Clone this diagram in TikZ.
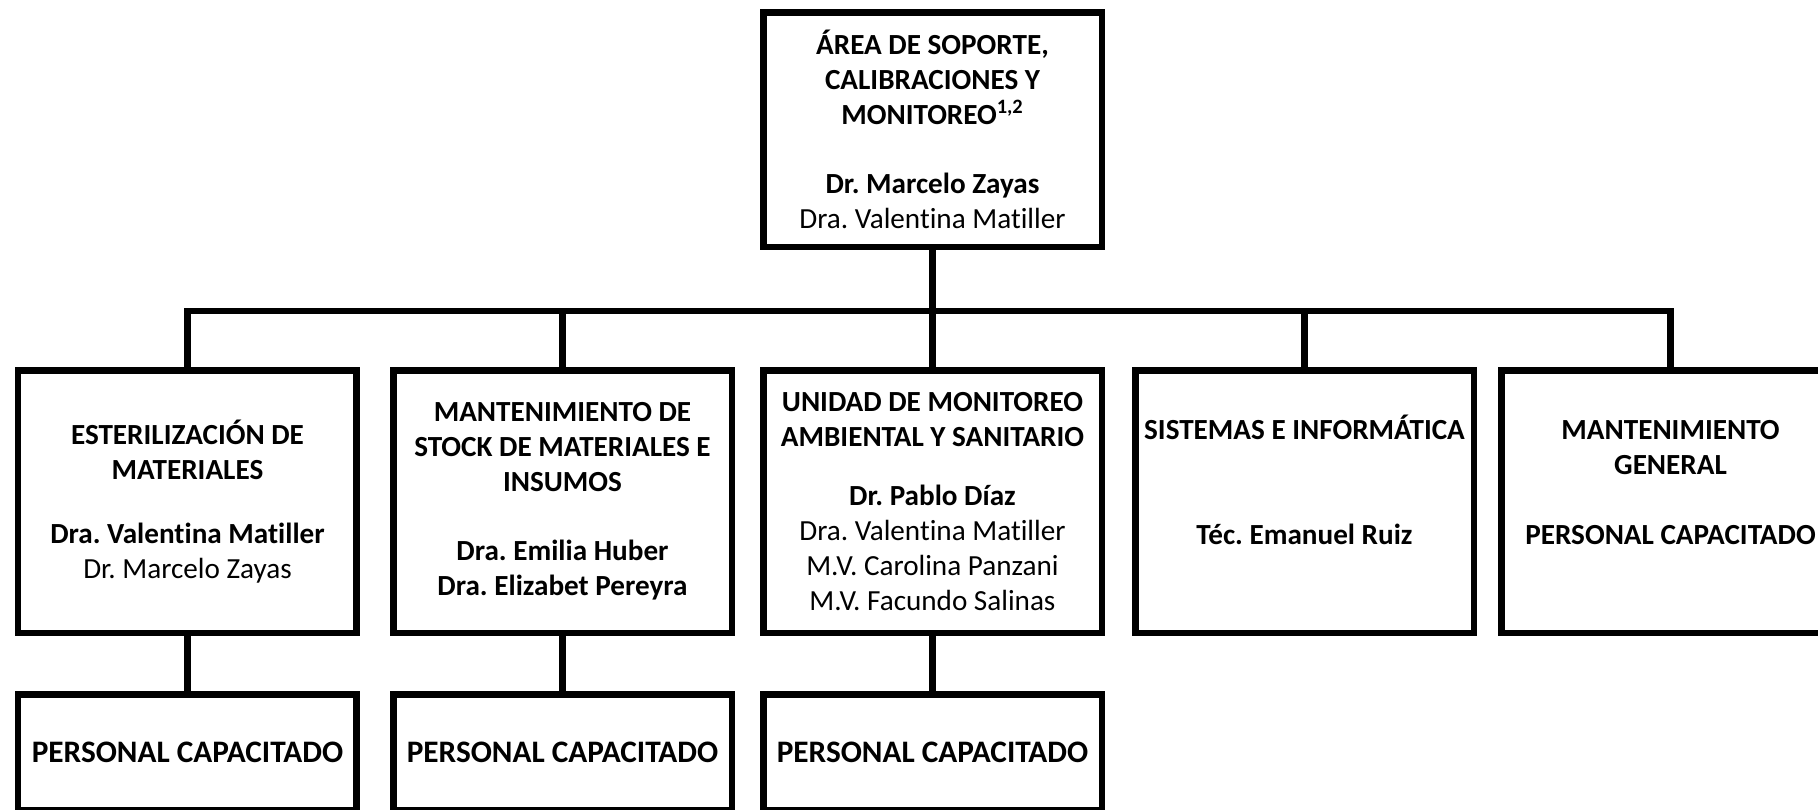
\documentclass[tikz,border=0pt]{standalone}
\usepackage{fontspec}
\setmainfont{Carlito}[Ligatures={NoCommon,NoContextual}]
\frenchspacing
\usetikzlibrary{positioning}

\begin{document}
\begin{tikzpicture}[
    node distance=0.5cm,
    unit/.style={rectangle, draw, line width=3.7pt, minimum width=6.77cm, minimum height=5.25cm, align=center, inner sep=2pt, font=\bfseries\fontsize{16.6}{19.8}\selectfont},
    head/.style={unit, minimum height=4.69cm},
    staff/.style={unit, minimum height=2.32cm, font=\bfseries\fontsize{17.8}{20}\selectfont},
    link/.style={line width=3.7pt}
]
\useasboundingbox (0,0) rectangle (36.36,-16.18);
\clip (0,0) rectangle (36.36,-16.18);

\node[head] (area) at (18.65,-2.59) {ÁREA DE SOPORTE,\\CALIBRACIONES Y\\MONITOREO\textsuperscript{1,2}\\[19.8pt]Dr. Marcelo Zayas\\\mdseries Dra. Valentina Matiller};

% Units
\node[unit, below=2.34cm of area] (monitoreo) {UNIDAD DE MONITOREO\\AMBIENTAL Y SANITARIO\\[14pt]Dr. Pablo Díaz\\\mdseries Dra. Valentina Matiller\\\mdseries M.V. Carolina Panzani\\\mdseries M.V. Facundo Salinas};
\node[unit, left=0.5cm of monitoreo] (stock) {MANTENIMIENTO DE\\STOCK DE MATERIALES E\\INSUMOS\\[19.8pt]Dra. Emilia Huber\\Dra. Elizabet Pereyra};
\node[unit, left=0.6cm of stock] (esteril) {ESTERILIZACIÓN DE\\MATERIALES\\[17pt]Dra. Valentina Matiller\\\mdseries Dr. Marcelo Zayas};
\node[unit, right=0.54cm of monitoreo] (sistemas) {SISTEMAS E INFORMÁTICA\\[39.6pt]Téc. Emanuel Ruiz\\[5pt]~};
\node[unit, right=0.42cm of sistemas] (mantgral) {MANTENIMIENTO\\GENERAL\\[19.8pt]PERSONAL CAPACITADO\\[2pt]~};

% Staff
\node[staff, below=1.1cm of esteril] (esteril-p) {PERSONAL CAPACITADO};
\node[staff, below=1.1cm of stock] (stock-p) {PERSONAL CAPACITADO};
\node[staff, below=1.1cm of monitoreo] (monitoreo-p) {PERSONAL CAPACITADO};

\coordinate[below=1.22cm of area] (bus);
\foreach \u in {esteril, stock, monitoreo, sistemas, mantgral}
    \draw[link] (area) -- (bus) -| (\u);

\draw[link] (esteril) -- (esteril-p);
\draw[link] (stock) -- (stock-p);
\draw[link] (monitoreo) -- (monitoreo-p);

\end{tikzpicture}
\end{document}
